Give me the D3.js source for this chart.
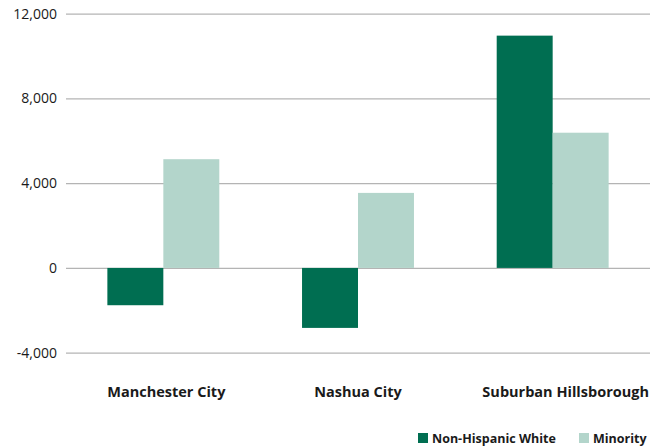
<!DOCTYPE html>
<html>
<head>
<meta charset="utf-8">
<script src="https://cdn.jsdelivr.net/npm/d3@7"></script>
<style>
  html, body { margin: 0; padding: 0; background: #fff; }
  svg { display: block; }
</style>
</head>
<body>
<svg id="chart" width="662" height="448"></svg>
<script>
const categories = ["Manchester City", "Nashua City", "Suburban Hillsborough"];
const seriesNames = ["Non-Hispanic White", "Minority"];
const nonHispanicWhite = [-1760, -2830, 10960];
const minority = [5130, 3540, 6380];
const yTicks = [-4000, 0, 4000, 8000, 12000];
const colors = ["#006e51", "#b3d5cb"];

const svg = d3.select("#chart");
const left = 66, right = 650;
const y = d3.scaleLinear().domain([-4000, 12000]).range([352.7, 13.6]);
const x0 = d3.scaleBand().domain(categories).range([left, right])
  .paddingInner(0.425).paddingOuter(0.2125);
const x1 = d3.scaleBand().domain(seriesNames).range([0, x0.bandwidth()]);

const fmtBase = d3.format(",");
const fmt = v => fmtBase(v).replace("\u2212", "-");
const font = "'Open Sans', 'Noto Sans', sans-serif";

// gridlines
const yAxis = d3.axisLeft(y).tickValues(yTicks).tickSize(-(right - left)).tickFormat(fmt).tickPadding(9);
const gAxis = svg.append("g").attr("transform", `translate(${left},0)`).call(yAxis);
gAxis.select(".domain").remove();
gAxis.selectAll(".tick line").attr("stroke", "#b4b4b4").attr("stroke-width", 1.2);
gAxis.selectAll(".tick text")
  .attr("font-family", font).attr("font-size", 14).attr("fill", "#1a1a1a");

// bars
const data = categories.map((c, i) => ({cat: c, vals: [nonHispanicWhite[i], minority[i]]}));
const groups = svg.append("g").selectAll("g").data(data).join("g")
  .attr("transform", d => `translate(${x0(d.cat)},0)`);
groups.selectAll("rect").data(d => d.vals.map((v, j) => ({name: seriesNames[j], v, j})))
  .join("rect")
  .attr("x", d => x1(d.name))
  .attr("width", x1.bandwidth())
  .attr("y", d => y(Math.max(0, d.v)))
  .attr("height", d => Math.abs(y(d.v) - y(0)))
  .attr("fill", d => colors[d.j]);

// category labels
const labelShift = [3, 0, 13];
svg.append("g").selectAll("text").data(categories).join("text")
  .attr("x", (d, i) => x0(d) + x0.bandwidth() / 2 + labelShift[i])
  .attr("y", 397)
  .attr("text-anchor", "middle")
  .attr("font-family", font).attr("font-weight", "bold").attr("font-size", 14.5)
  .attr("fill", "#1a1a1a")
  .text(d => d);

// legend
const legendX = [418, 579];
const lg = svg.append("g").selectAll("g").data(seriesNames).join("g")
  .attr("transform", (d, i) => `translate(${legendX[i]},433)`);
lg.append("rect").attr("width", 10).attr("height", 10).attr("fill", (d, i) => colors[i]);
lg.append("text").attr("x", 14).attr("y", 9.5)
  .attr("font-family", font).attr("font-weight", "bold").attr("font-size", 12.5)
  .attr("fill", "#1a1a1a").text(d => d);
</script>
</body>
</html>
